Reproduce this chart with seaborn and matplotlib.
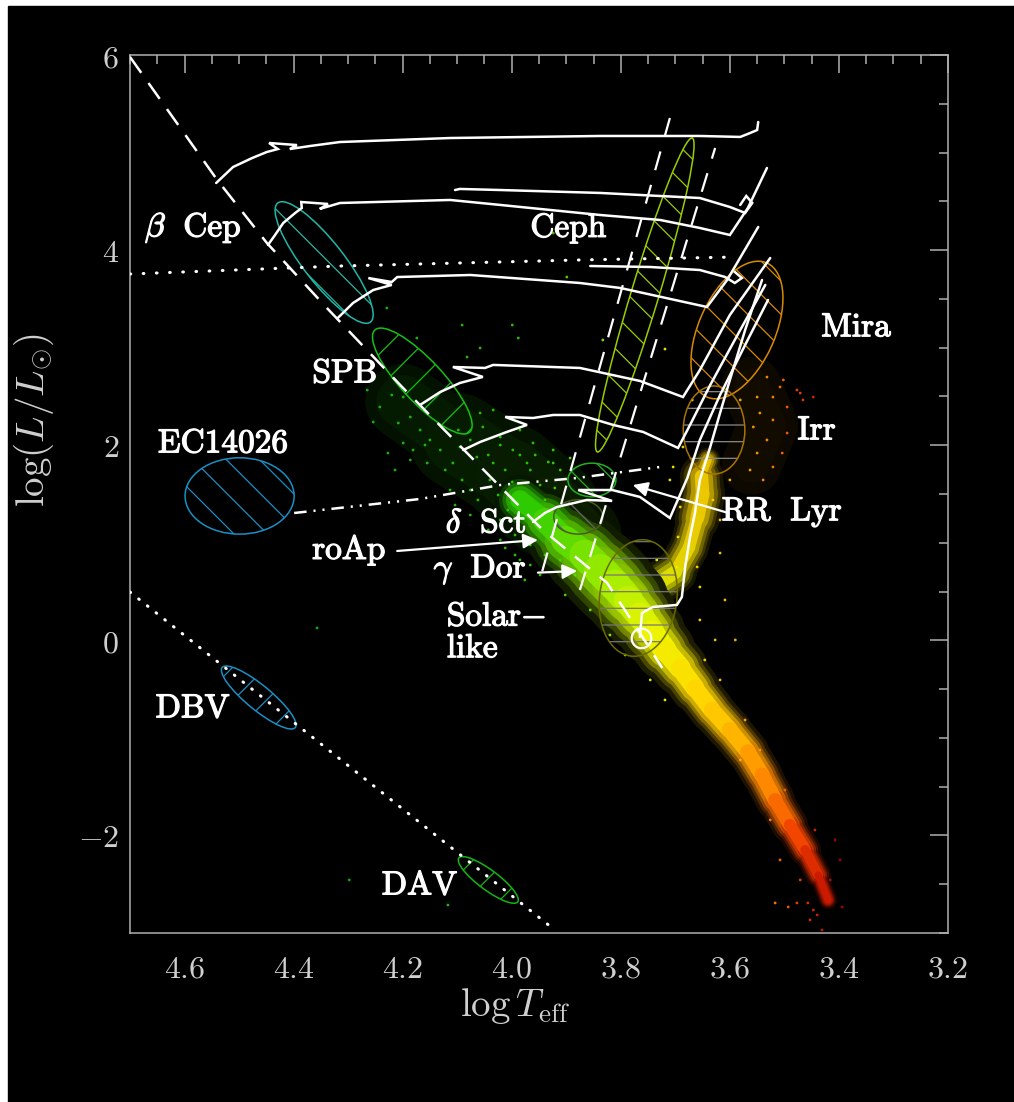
import numpy as np
import pandas as pd
import seaborn as sns
import matplotlib.pyplot as plt
import matplotlib.patheffects as pe
from matplotlib.patches import Ellipse, Rectangle
from matplotlib.transforms import Affine2D
from matplotlib.colors import LinearSegmentedColormap, Normalize
from matplotlib.collections import LineCollection
from matplotlib.ticker import MultipleLocator

sns.set_style('dark')
plt.rcParams['mathtext.fontset'] = 'cm'
plt.rcParams['hatch.linewidth'] = 0.9
plt.rcParams['lines.scale_dashes'] = False

# ---------------- data (log Teff, log L/Lsun) ----------------
# ridge of the dense main sequence, sub-giant/giant branch and diffuse wings (width in px)
MS_T = [3.985, 3.939, 3.902, 3.866, 3.838, 3.811, 3.787, 3.765, 3.743, 3.719, 3.691,
        3.664, 3.633, 3.600, 3.567, 3.541, 3.517, 3.490, 3.462, 3.438, 3.420]
MS_L = [1.439, 1.234, 1.029, 0.875, 0.721, 0.567, 0.414, 0.260, 0.086, -0.099, -0.283,
        -0.488, -0.714, -0.919, -1.144, -1.380, -1.636, -1.893, -2.149, -2.405, -2.661]
MS_W = [30, 40, 48, 54, 58, 58, 54, 48, 44, 40, 36, 32, 30, 30, 28, 28, 26, 24, 20, 16, 10]
GB_T = [3.640, 3.652, 3.650, 3.660, 3.675, 3.700, 3.740]
GB_L = [1.850, 1.680, 1.500, 1.250, 0.950, 0.700, 0.550]
GB_W = [8, 26, 34, 28, 26, 28, 32]
HOT_T = [4.200, 4.100, 4.000, 3.930, 3.880]
HOT_L = [2.450, 2.050, 1.700, 1.350, 1.050]
HOT_W = [60, 90, 100, 100, 80]
COOL_T = [3.560, 3.530, 3.560]
COOL_L = [2.600, 2.200, 1.800]
COOL_W = [50, 70, 50]

# isolated stars
SPECK_T = [4.229, 4.091, 3.999, 3.988, 4.058, 4.082, 4.174, 4.265, 4.220, 4.242, 4.199, 4.186,
           4.254, 4.208, 4.168, 4.227, 4.199, 4.181, 4.150, 4.131, 4.095, 4.058, 4.053, 4.034,
           4.021, 3.985, 3.998, 3.961, 3.924, 3.924, 3.972, 4.034, 4.064, 4.108, 4.155, 3.899,
           3.924, 3.833, 3.719, 4.357, 4.298, 4.117, 4.076, 4.104, 4.049, 4.021, 3.994, 3.966,
           4.012, 3.999, 4.025, 3.985, 3.966, 3.948, 4.007, 3.976, 3.939, 3.921, 4.040, 4.062,
           4.076, 4.043, 4.021, 3.994, 3.966, 3.939, 3.985, 4.012, 3.911, 3.893, 3.933, 3.957,
           4.091, 4.113, 4.122, 4.098, 4.076, 4.131, 4.159, 4.186, 4.214, 3.985, 4.021, 4.043,
           3.911, 3.884, 3.948, 3.976, 3.902, 3.856, 3.820, 3.792,
           3.532, 3.508, 3.471, 3.466, 3.521, 3.550, 3.495, 3.545, 3.521, 3.557, 3.495, 3.532,
           3.504, 3.550, 3.563, 3.539, 3.521, 3.447, 3.502, 3.477, 3.581,
           3.669, 3.686, 3.704, 3.710, 3.691, 3.695, 3.660, 3.655, 3.618, 3.618, 3.631, 3.600,
           3.697, 3.734, 3.609, 3.590, 3.655, 3.627, 3.646, 3.618, 3.572, 3.545, 3.719, 3.746,
           3.581, 3.499, 3.526, 3.444, 3.471, 3.407,
           3.457, 3.447, 3.440, 3.453, 3.431, 3.394, 3.477, 3.493, 3.517, 3.416, 3.398, 3.508]
SPECK_L = [3.407, 3.232, 3.232, 3.099, 2.997, 2.904, 3.099, 2.566, 2.515, 2.392, 2.494, 2.289,
           2.238, 2.228, 2.156, 1.920, 2.023, 1.951, 2.054, 1.951, 1.982, 2.330, 2.187, 2.361,
           2.084, 2.156, 1.951, 2.023, 1.951, 1.818, 1.818, 1.818, 1.879, 1.818, 1.818, 3.724,
           4.175, 3.079, 2.986, 0.127, -2.456, -2.713, 1.541, 1.387, 1.234, 1.029, 0.875, 0.772,
           1.746, 1.623, 1.490, 1.521, 1.746, 1.592, 1.336, 1.387, 1.439, 1.562, 1.644, 1.439,
           1.285, 1.131, 1.234, 1.080, 0.977, 0.875, 0.824, 0.947, 1.746, 1.869, 1.828, 1.900,
           1.644, 1.541, 1.746, 2.156, 2.054, 2.207, 2.002, 1.849, 1.746, 1.900, 2.002, 1.900,
           0.824, 0.670, 0.670, 0.619, 0.465, 0.311, 0.055, -0.150,
           2.699, 2.597, 2.535, 2.464, 2.494, 2.494, 2.392, 2.330, 2.259, 2.187, 2.125, 2.054,
           1.920, 1.920, 1.746, 1.644, 1.777, 2.494, 2.669, 2.566, 2.464,
           2.464, 1.982, 1.777, 1.644, 1.367, 1.060, 0.752, 0.547, 0.895, 1.234, 1.439, 1.644,
           0.752, 0.824, 0.414, 0.004, 0.209, 0.004, -0.201, -0.406, -0.816, -1.124, -0.611, -0.406,
           -1.226, -1.534, -1.841, -1.944, -2.456, -2.046,
           -2.692, -2.764, -2.815, -2.866, -2.969, -2.733, -2.692, -2.733, -2.692, -2.456, -2.251, -2.251]

# evolutionary tracks
TRACK_A_T = [4.542, 4.511, 4.476, 4.449, 4.429, 4.445, 4.394, 4.407, 4.370, 4.315, 4.113, 3.838,
             3.655, 3.581, 3.563, 3.550, 3.548]
TRACK_A_L = [4.688, 4.852, 4.944, 5.006, 5.036, 5.098, 5.077, 5.036, 5.067, 5.108, 5.149, 5.170,
             5.170, 5.160, 5.200, 5.231, 5.313]
TRACK_B_T = [4.447, 4.434, 4.419, 4.397, 4.385, 4.386, 4.337, 4.352, 4.315, 4.113, 4.021, 3.838,
             3.728, 3.655, 3.600, 3.567, 3.532]
TRACK_B_L = [4.053, 4.155, 4.278, 4.381, 4.432, 4.493, 4.473, 4.422, 4.483, 4.514, 4.463, 4.360,
             4.309, 4.227, 4.155, 4.432, 4.842]
LOOP_B_T = [4.104, 4.095, 4.021, 3.838, 3.655, 3.600, 3.572, 3.559, 3.570, 3.581]
LOOP_B_L = [4.616, 4.627, 4.616, 4.586, 4.534, 4.442, 4.381, 4.483, 4.555, 4.463]
TRACK_C_T = [4.319, 4.291, 4.254, 4.220, 4.263, 4.220, 4.210, 4.076, 3.875, 3.801, 3.642, 3.605, 3.548]
TRACK_C_L = [3.304, 3.458, 3.591, 3.643, 3.714, 3.673, 3.724, 3.745, 3.663, 3.612, 3.417, 3.694, 4.237]
LOOP_C_T = [3.856, 3.746, 3.655, 3.609, 3.591, 3.578, 3.591]
LOOP_C_L = [3.837, 3.827, 3.796, 3.725, 3.663, 3.714, 3.776]
TRACK_D_T = [4.168, 4.131, 4.095, 4.053, 4.108, 4.049, 4.034, 3.875, 3.765, 3.686, 3.655, 3.600, 3.526]
TRACK_D_L = [2.413, 2.546, 2.638, 2.700, 2.802, 2.792, 2.823, 2.792, 2.659, 2.494, 2.771, 3.335, 3.919]
TRACK_E_T = [4.089, 4.058, 4.009, 3.972, 4.012, 3.961, 3.924, 3.875, 3.814, 3.759, 3.695, 3.673,
             3.636, 3.581, 3.535]
TRACK_E_L = [1.951, 2.033, 2.136, 2.208, 2.290, 2.279, 2.310, 2.310, 2.208, 2.136, 1.972, 2.208,
             2.618, 3.181, 3.643]
TRACK_F_T = [3.961, 3.939, 3.917, 3.862, 3.816, 3.878, 3.816, 3.765, 3.710, 3.678, 3.655, 3.618,
             3.572, 3.530]
TRACK_F_L = [1.213, 1.306, 1.367, 1.439, 1.429, 1.541, 1.541, 1.470, 1.254, 1.664, 2.054, 2.515,
             3.028, 3.489]
TRACK_SUN_T = [3.765, 3.761, 3.741, 3.697, 3.688, 3.682, 3.673, 3.664, 3.655, 3.636, 3.618, 3.600,
               3.572, 3.541]
TRACK_SUN_L = [0.035, 0.281, 0.342, 0.363, 0.445, 0.752, 1.060, 1.306, 1.644, 1.982, 2.330, 2.669,
               3.181, 3.694]
TRACKS = [(TRACK_A_T, TRACK_A_L), (TRACK_B_T, TRACK_B_L), (LOOP_B_T, LOOP_B_L),
          (TRACK_C_T, TRACK_C_L), (LOOP_C_T, LOOP_C_L), (TRACK_D_T, TRACK_D_L),
          (TRACK_E_T, TRACK_E_L), (TRACK_F_T, TRACK_F_L), (TRACK_SUN_T, TRACK_SUN_L)]

# reference lines
ZAMS_T = [4.700, 4.540, 4.449, 4.339, 4.201, 4.064, 3.943, 3.825, 3.765, 3.724]
ZAMS_L = [5.980, 4.719, 4.073, 3.407, 2.597, 1.818, 1.131, 0.588, 0.075, -0.283]
BCEP_EDGE_T = [4.700, 4.315, 3.875, 3.590]
BCEP_EDGE_L = [3.755, 3.837, 3.899, 3.929]
SDB_EDGE_T = [4.399, 4.168, 4.021, 3.880, 3.728]
SDB_EDGE_L = [1.305, 1.449, 1.592, 1.664, 1.777]
WD_T = [4.700, 3.921]
WD_L = [0.495, -2.969]
STRIP_BLUE_T = [3.710, 3.946]
STRIP_BLUE_L = [5.354, 0.670]
STRIP_RED_T = [3.627, 3.875]
STRIP_RED_L = [5.047, 0.516]

# pulsator regions: centre, end of major axis, axis ratio
REG_NAMES = ['bCep', 'SPB', 'EC', 'DBV', 'DAV', 'Ceph', 'Mira', 'Irr', 'Solar', 'dSct', 'roAp']
REG_TC = [4.344, 4.164, 4.499, 4.464, 4.043, 3.756, 3.587, 3.629, 3.768, 3.853, 3.878]
REG_LC = [3.873, 2.658, 1.480, -0.586, -2.456, 3.540, 3.181, 2.156, 0.434, 1.644, 1.265]
REG_TE = [4.429, 4.251, 4.399, 4.531, 4.097, 3.669, 3.532, 3.629, 3.754, 3.809, 3.833]
REG_LE = [4.483, 3.181, 1.480, -0.278, -2.231, 5.149, 3.868, 2.607, 1.029, 1.644, 1.265]
REG_RATIO = [0.27, 0.30, 0.70, 0.26, 0.27, 0.085, 0.52, 0.70, 0.66, 0.70, 0.70]

# labels
LABELS = [r'$\beta\ \ \mathrm{Cep}$', r'$\mathrm{Ceph}$', r'$\mathrm{Mira}$', r'$\mathrm{SPB}$',
          r'$\mathrm{Irr}$', r'$\mathrm{EC14026}$', r'$\mathrm{RR\ \ Lyr}$', r'$\delta\ \ \mathrm{Sct}$',
          r'$\mathrm{roAp}$', r'$\gamma\ \ \mathrm{Dor}$', r'$\mathrm{DBV}$', r'$\mathrm{DAV}$']
LABEL_T = [4.584, 3.895, 3.367, 4.306, 3.440, 4.529, 3.504, 4.047, 4.298, 4.058, 4.584, 4.168]
LABEL_L = [4.227, 4.227, 3.212, 2.740, 2.156, 2.023, 1.316, 1.203, 0.926, 0.721, -0.694, -2.508]
SOLAR_T, SOLAR_L = 4.119, 0.085

# arrows (tail -> head)
ARROW_TAIL_T = [4.210, 3.952, 3.605]
ARROW_TAIL_L = [0.916, 0.694, 1.309]
ARROW_HEAD_T = [3.952, 3.880, 3.778]
ARROW_HEAD_L = [1.029, 0.711, 1.592]

SUN_T, SUN_L = 3.762, 0.020

XTICKS = [4.6, 4.4, 4.2, 4.0, 3.8, 3.6, 3.4, 3.2]
YTICKS = [-2, 0, 2, 4, 6]

# ---------------- figure ----------------
FW, FH = 1014, 1102
AX = [130 / FW, (FH - 933) / FH, 818 / FW, 878 / FH]
fig = plt.figure(figsize=(FW / 100, FH / 100), dpi=100)
fig.patch.set_facecolor('white')
fig.add_artist(Rectangle((8 / FW, 0), 1, 1 - 6 / FH, transform=fig.transFigure,
                         color='black', zorder=-10))
ax = fig.add_axes(AX)
ax.set_facecolor('black')
ax.set_xlim(4.7, 3.2)
ax.set_ylim(-3, 6)

star_cmap = LinearSegmentedColormap.from_list('stars', [
    (0.000, '#b00000'), (0.078, '#f04000'), (0.144, '#ff8c00'), (0.222, '#ffc000'),
    (0.289, '#ffdc00'), (0.367, '#eef400'), (0.433, '#b4f000'), (0.511, '#70e000'),
    (0.611, '#30cc00'), (1.000, '#10b810')])
t_norm = Normalize(3.4, 4.3)


def glow_band(tt, ll, ww, layers):
    pts = np.column_stack([tt, ll])
    segs = np.stack([pts[:-1], pts[1:]], axis=1)
    tm = (np.asarray(tt[:-1]) + np.asarray(tt[1:])) / 2
    wm = (np.asarray(ww[:-1]) + np.asarray(ww[1:])) / 2 * 0.72
    base = star_cmap(t_norm(tm))[:, :3]
    for wf, br in layers:
        ax.add_collection(LineCollection(segs, linewidths=wm * wf, colors=base * br,
                                         capstyle='round', joinstyle='round', zorder=1))


glow_band(HOT_T, HOT_L, HOT_W, [(1.0, 0.09), (0.7, 0.14)])
glow_band(COOL_T, COOL_L, COOL_W, [(1.0, 0.05), (0.6, 0.07)])
dense = [(1.45, 0.12), (1.2, 0.30), (1.0, 0.55), (0.8, 0.80), (0.55, 1.0)]
glow_band(GB_T, GB_L, GB_W, [(1.45, 0.10), (1.2, 0.25), (1.0, 0.45), (0.75, 0.70), (0.45, 0.92)])
glow_band(MS_T, MS_L, MS_W, dense)

speck = pd.DataFrame({'T': SPECK_T, 'L': SPECK_L})
sns.scatterplot(data=speck, x='T', y='L', hue='T', palette=star_cmap, hue_norm=(3.4, 4.3),
                s=4, alpha=0.95, linewidth=0, legend=False, ax=ax, zorder=1.5)

# ---- hatched regions, drawn in a frame with equal pixel scale on both axes
k = (FH * AX[3] / 9) / (FW * AX[2] / 1.5)
to_data = Affine2D().scale(-1, 1 / k) + ax.transData
reg_style = {
    'bCep': ('#1fb8a8', '#1fb8a8', '\\'), 'SPB': ('#14c014', '#14c014', '/'),
    'EC': ('#1a8fc4', '#1a8fc4', '\\'), 'DBV': ('#1a8fc4', '#1a8fc4', '/'),
    'DAV': ('#14b414', '#14b414', '/'), 'Ceph': ('#9acd00', '#9acd00', '\\'),
    'Mira': ('#d88a00', '#d88a00', '\\'), 'Irr': ('#a87400', '#8a8a8a', '-'),
    'Solar': ('#6a6a00', '#777777', '-'), 'dSct': ('#22b022', '#22b022', '\\'),
    'roAp': ('#4a5a20', '#666666', '\\'),
}
for name, tc, lc, te, le, r in zip(REG_NAMES, REG_TC, REG_LC, REG_TE, REG_LE, REG_RATIO):
    edge, hcol, hatch = reg_style[name]
    uc, wc, ue, we = -tc, lc * k, -te, le * k
    a = np.hypot(ue - uc, we - wc)
    ang = np.degrees(np.arctan2(we - wc, ue - uc))
    ax.add_patch(Ellipse((uc, wc), 2 * a, 2 * a * r, angle=ang, transform=to_data,
                         facecolor='none', edgecolor=hcol, hatch=hatch, lw=0, zorder=2))
    ax.add_patch(Ellipse((uc, wc), 2 * a, 2 * a * r, angle=ang, transform=to_data,
                         facecolor='none', edgecolor=edge, lw=1.1, zorder=2))

# ---- lines
ax.plot(ZAMS_T, ZAMS_L, color='white', lw=1.8, linestyle=(0, (14, 9)), zorder=3)
ax.plot(BCEP_EDGE_T, BCEP_EDGE_L, color='white', lw=2.2, linestyle=(0, (0.5, 9)),
        dash_capstyle='round', zorder=3)
ax.plot(WD_T, WD_L, color='white', lw=2.2, linestyle=(0, (0.5, 7.5)),
        dash_capstyle='round', zorder=3)
ax.plot(SDB_EDGE_T, SDB_EDGE_L, color='white', lw=1.8,
        linestyle=(0, (9, 5, 1.5, 5, 1.5, 5)), zorder=3)
ax.plot(STRIP_BLUE_T, STRIP_BLUE_L, color='white', lw=1.6, linestyle=(0, (14, 11)), zorder=3)
ax.plot(STRIP_RED_T, STRIP_RED_L, color='white', lw=1.6, linestyle=(6, (14, 11)), zorder=3)
for tt, ll in TRACKS:
    ax.plot(tt, ll, color='white', lw=1.8, solid_joinstyle='miter', zorder=3)

ax.scatter([SUN_T], [SUN_L], s=200, facecolor='none', edgecolor='white', lw=1.6, zorder=4)

for t0, l0, t1, l1 in zip(ARROW_TAIL_T, ARROW_TAIL_L, ARROW_HEAD_T, ARROW_HEAD_L):
    ax.annotate('', xy=(t1, l1), xytext=(t0, l0),
                arrowprops=dict(arrowstyle='-|>', color='white', lw=1.6,
                                mutation_scale=22, shrinkA=0, shrinkB=0), zorder=4)

bold = [pe.withStroke(linewidth=0.9, foreground='white')]
for txt, t, l in zip(LABELS, LABEL_T, LABEL_L):
    ax.text(t, l, txt, color='white', fontsize=24, ha='center', va='center', zorder=5,
            path_effects=bold)
ax.text(SOLAR_T, SOLAR_L, r'$\mathrm{Solar{-}}$' + '\n' + r'$\mathrm{like}$', color='white',
        fontsize=24, ha='left', va='center', multialignment='left', linespacing=0.95, zorder=5,
        path_effects=bold)

# ---- axes styling
grey = '#b0b0b0'
ax.set_xticks(XTICKS, [f'${v:.1f}$' for v in XTICKS])
ax.set_yticks(YTICKS, [f'${v}$' for v in YTICKS])
ax.xaxis.set_minor_locator(MultipleLocator(0.05))
ax.yaxis.set_minor_locator(MultipleLocator(0.5))
ax.tick_params(which='both', direction='in', top=True, right=True, color=grey, width=1.1,
               labelcolor='#cfcfcf', labelsize=23)
ax.tick_params(which='major', length=13)
ax.tick_params(which='minor', length=6.5)
ax.tick_params(axis='x', pad=15)
ax.tick_params(axis='y', pad=8)
for sp in ax.spines.values():
    sp.set_color(grey)
    sp.set_linewidth(1.1)
ax.grid(False)

ax.set_xlabel(r'$\log T_{\rm eff}$', color='#cfcfcf', fontsize=28)
ax.set_ylabel(r'$\log(L/L_{\odot})$', color='#cfcfcf', fontsize=28)
ax.xaxis.set_label_coords(0.471, -0.060)
ax.yaxis.set_label_coords(-0.090, 0.584)

fig.savefig('out.png', dpi=100, facecolor=fig.get_facecolor())
